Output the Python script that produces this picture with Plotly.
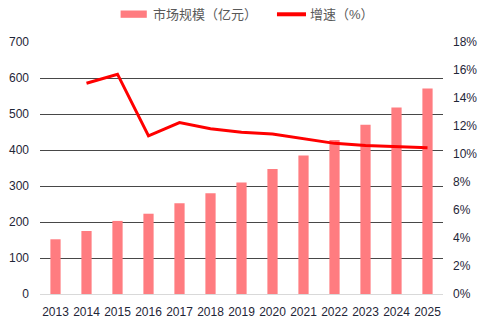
import plotly.graph_objects as go

# Market size (100 million CNY) and year-on-year growth (%)
years = ["2013", "2014", "2015", "2016", "2017", "2018", "2019",
         "2020", "2021", "2022", "2023", "2024", "2025"]
market_size = [152, 175, 203, 223, 252, 280, 310, 347, 385, 428, 470, 518, 571]
growth_years = years[1:]
growth_rate = [15.05, 15.7, 11.3, 12.24, 11.8, 11.55, 11.43, 11.1, 10.76, 10.6, 10.5, 10.45]

left_ticks = [0, 100, 200, 300, 400, 500, 600, 700]
right_ticks = [0, 2, 4, 6, 8, 10, 12, 14, 16, 18]

bar_name = "市场规模（亿元）"
line_name = "增速（%）"

BAR_COLOR = "#FF7C80"
LINE_COLOR = "#FF0000"
TICK_COLOR = "#1f2638"
FONT = "Liberation Sans, Noto Sans CJK SC, sans-serif"

fig = go.Figure()
fig.add_trace(go.Bar(x=years, y=market_size, name=bar_name,
                     marker=dict(color=BAR_COLOR, line=dict(width=0)),
                     width=0.33, yaxis="y"))
fig.add_trace(go.Scatter(x=growth_years, y=growth_rate, name=line_name,
                         mode="lines", line=dict(color=LINE_COLOR, width=3),
                         yaxis="y2"))

fig.update_layout(
    width=488, height=328,
    margin=dict(l=40, r=45, t=42, b=34),
    paper_bgcolor="white", plot_bgcolor="white",
    showlegend=False,
    font=dict(family=FONT, size=12, color=TICK_COLOR),
    xaxis=dict(type="category", categoryorder="array", categoryarray=years,
               showgrid=False, showline=True, linecolor="#d9d9d9", linewidth=1,
               ticks="", ticklabelstandoff=7, automargin=False,
               tickfont=dict(size=12, color=TICK_COLOR)),
    # value axis on the left: labels only
    yaxis=dict(range=[0, 700], tickvals=left_ticks, showgrid=False,
               zeroline=False, showline=False, ticks="", ticklabelstandoff=10,
               automargin=False, tickfont=dict(size=12, color=TICK_COLOR)),
    # growth axis on the right
    yaxis2=dict(range=[0, 18], overlaying="y", side="right",
                tickvals=right_ticks, ticktext=[f"{v}%" for v in right_ticks],
                showgrid=False, zeroline=False, showline=False, ticks="",
                ticklabelstandoff=9, automargin=False,
                tickfont=dict(size=12, color=TICK_COLOR)),
    # horizontal gridlines above zero
    yaxis3=dict(range=[0, 700], overlaying="y", tickvals=left_ticks[1:],
                showgrid=True, gridcolor="#474747", gridwidth=1,
                showticklabels=False, zeroline=False, showline=False,
                ticks="", layer="below traces", automargin=False),
)

# attach an empty trace so the grid axis is rendered
fig.add_trace(go.Scatter(x=[years[0]], y=[None], yaxis="y3",
                         mode="lines", showlegend=False, hoverinfo="skip"))

# Legend drawn above the plot area
fig.add_shape(type="rect", xref="paper", yref="paper",
              x0=0.2, x1=0.265, y0=1.096, y1=1.125,
              fillcolor=BAR_COLOR, line=dict(width=0))
fig.add_shape(type="line", xref="paper", yref="paper",
              x0=0.588, x1=0.66, y0=1.11, y1=1.11,
              line=dict(color=LINE_COLOR, width=4))
fig.add_annotation(text=bar_name, xref="paper", yref="paper",
                   x=0.275, y=1.11, xanchor="left", yanchor="middle",
                   showarrow=False, font=dict(size=13, color="#595959"))
fig.add_annotation(text=line_name, xref="paper", yref="paper",
                   x=0.665, y=1.11, xanchor="left", yanchor="middle",
                   showarrow=False, font=dict(size=13, color="#595959"))

fig.write_html("out.html")
